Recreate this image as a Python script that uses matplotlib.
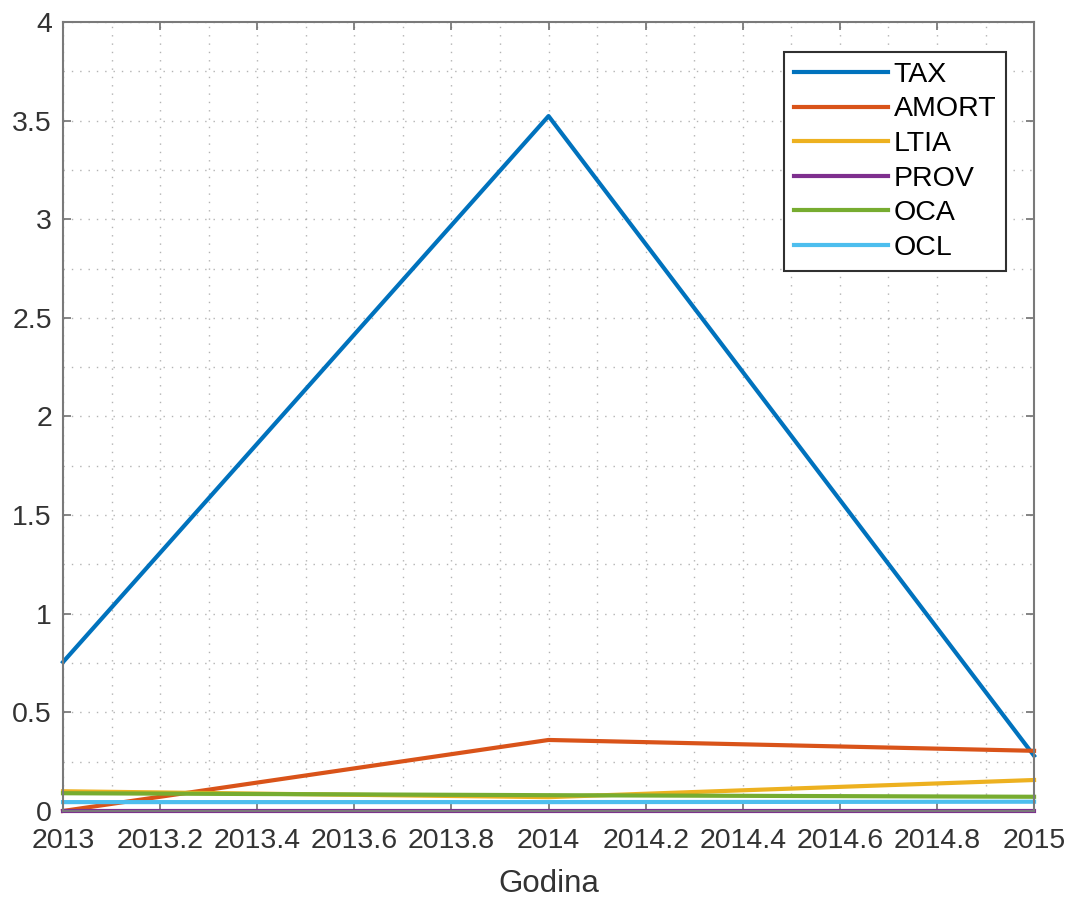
import matplotlib

matplotlib.use("Agg")
import matplotlib.pyplot as plt
import numpy as np
from matplotlib.ticker import MultipleLocator

years = [2013, 2014, 2015]
series_names = ["TAX", "AMORT", "LTIA", "PROV", "OCA", "OCL"]
tax = [0.755, 3.523, 0.28]
amort = [0.0, 0.36, 0.305]
ltia = [0.10, 0.07, 0.157]
prov = [0.0, 0.0, 0.0]
oca = [0.09, 0.08, 0.072]
ocl = [0.045, 0.045, 0.047]
colors = ["#0072BD", "#D95319", "#EDB120", "#7E2F8E", "#77AC30", "#4DBEEE"]

plt.rcParams["font.family"] = ["Liberation Sans", "DejaVu Sans"]

fig = plt.figure(figsize=(10.72, 8.97), dpi=100)
ax = fig.add_axes([0.0588, 0.0959, 0.9058, 0.8796])

for name, vals, c in zip(series_names, [tax, amort, ltia, prov, oca, ocl], colors):
    ax.plot(years, vals, color=c, linewidth=3.0, label=name, clip_on=False)

ax.set_xlim(2013, 2015)
ax.set_ylim(0, 4)
ax.xaxis.set_major_locator(MultipleLocator(0.2))
ax.xaxis.set_minor_locator(MultipleLocator(0.1))
ax.yaxis.set_major_locator(MultipleLocator(0.5))
ax.yaxis.set_minor_locator(MultipleLocator(0.25))
ax.set_xticklabels([f"{v:g}" for v in ax.get_xticks()])
ax.set_yticklabels([f"{v:g}" for v in ax.get_yticks()])

ax.grid(which="both", linestyle=(0, (1, 5)), color="#a0a0a0", linewidth=1.0, alpha=0.8)
ax.tick_params(which="both", direction="in", top=True, right=True, labelsize=20.5,
               labelcolor="#333333", color="#707070")
ax.tick_params(axis="y", pad=8)
ax.tick_params(axis="x", pad=12)
ax.tick_params(which="major", length=6, width=1.2)
ax.tick_params(which="minor", length=0)
for s in ax.spines.values():
    s.set_color("#7a7a7a")
    s.set_linewidth(1.5)

ax.set_xlabel("Godina", fontsize=22.5, color="#333333", labelpad=11)

leg = ax.legend(loc="upper right", bbox_to_anchor=(0.9712, 0.962), borderaxespad=0,
                fontsize=20.5, handlelength=3.3, handletextpad=0.2, labelspacing=0.3,
                fancybox=False, edgecolor="#303030", framealpha=1, borderpad=0.35)
leg.get_frame().set_linewidth(1.5)

fig.savefig("out.png", dpi=100)
